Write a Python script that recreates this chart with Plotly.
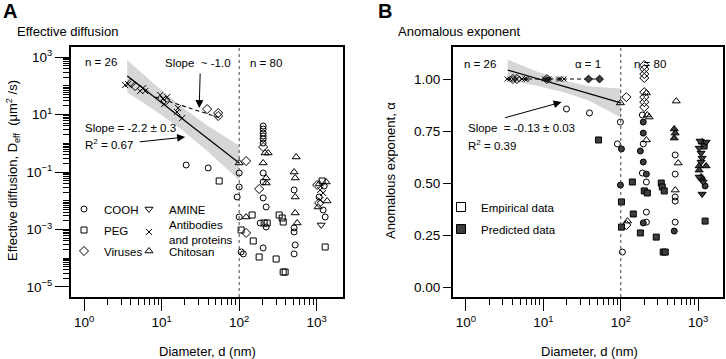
import math
import plotly.graph_objects as go

# ================= Panel A: effective diffusion (d in nm, D in um^2/s) =================
cooh_d = [20.7, 39.8, 100, 100, 94.2, 100, 106, 113, 204, 204, 204, 204, 204, 204, 204, 204,
          204, 223, 187, 223, 204, 512, 512, 512, 528, 512, 1250, 1077, 1213, 1288]
cooh_D = [0.175, 0.138, 0.0923, 0.0301, 0.0135, 0.00272, 1.65e-4, 1.41e-4, 3.98, 3.13, 2.27, 1.79,
          1.41, 1.02, 0.0923, 0.0449, 0.0125, 0.00607, 0.00168, 0.00122, 2.28e-4, 0.0237, 0.00113,
          8.2e-4, 2.89e-4, 1.41e-4, 0.0326, 0.0135, 0.00476, 0.00272]

peg_d = [55.2, 147, 106, 152, 210, 230, 181, 328, 359, 370, 300, 370, 392, 1288, 1178]
peg_D = [0.0486, 0.00319, 9.6e-4, 3.98e-4, 0.00168, 0.00168, 1.1e-4, 0.00319, 0.00251, 0.00182,
         9.4e-5, 3.3e-5, 3.3e-5, 2.46e-4, 0.0486]

virus_d = [4.04, 4.55, 11.1, 38.6, 53.6, 53.6, 123, 204, 181, 123, 1015, 1077]
virus_D = [125, 98, 29.5, 15.5, 11.3, 8.87, 0.241, 0.741, 0.0256, 7.6e-4, 0.0353, 0.00835]

amine_d = [1143]
amine_D = [0.00144]

antib_d = [3.38, 3.70, 5.28, 5.77, 6.12, 9.57, 10.4, 11.8, 10.8, 16.3, 15.8, 18.4, 1110, 1213, 1110]
antib_D = [106, 115, 65.6, 83.5, 65.6, 47.6, 34.6, 40.6, 23.2, 16.8, 12.2, 7.55, 0.0237, 0.0186, 0.0106]

chit_d = [100, 123, 216, 237, 204, 223, 223, 544, 512, 528, 528, 528, 560, 1327, 1077, 1365, 1045]
chit_D = [0.206, 0.00272, 0.458, 0.458, 0.206, 0.0618, 0.0414, 0.333, 0.1, 0.0618, 0.0135, 0.00375,
          0.00168, 0.0449, 0.0383, 0.0098, 0.00607]

# regression (solid) and its confidence band, panel A
fitA_d = [3.6, 100]
fitA_D = [218, 0.206]
bandA_d = [3.59, 7.94, 17.8, 39.8, 100]
bandA_up = [792, 117, 19.2, 3.99, 0.818]
bandA_lo = [60.1, 14.7, 3.05, 0.502, 0.0516]
# dashed "Slope ~ -1.0" line
slope1_d = [8.3, 57]
slope1_D = [40.6, 7.6]

# ================= Panel B: anomalous exponent =================
# empirical (open symbols)
emp_circ_d = [19.9, 39.4, 98.9, 90.4, 105, 190, 195, 190, 214, 214, 214, 504, 504, 504, 504, 504]
emp_circ_a = [0.856, 0.837, 0.793, 0.688, 0.168, 0.827, 0.688, 0.548, 0.505, 0.36, 0.312, 0.635,
              0.543, 0.433, 0.413, 0.312]
emp_diam_d = [4.04, 4.55, 11.1, 118, 201, 201, 201, 201, 201, 201, 201, 201, 118]
emp_diam_a = [1.0, 1.0, 1.0, 0.913, 1.067, 1.048, 1.024, 1.005, 0.937, 0.913, 0.889, 0.865, 0.298]
emp_tri_d = [98.9, 122, 214, 220, 233, 214, 520, 551, 504]
emp_tri_a = [0.885, 0.317, 0.933, 0.827, 0.817, 0.707, 0.894, 0.596, 0.466]
emp_x_d = [3.4, 3.7, 4.1, 4.5, 5.3, 5.8, 6.1, 10.4, 11.1, 11.8, 15.8, 16.8, 18.4]
emp_x_a = [1.0, 1.0, 1.0, 1.0, 1.0, 1.0, 1.0, 1.0, 1.0, 1.0, 1.0, 1.0, 1.0]
# predicted (filled symbols)
pre_diam_d = [38.3, 53.1]
pre_diam_a = [1.0, 1.0]
pre_circ_d = [102, 98.9, 195, 195, 179, 195, 214, 195, 490, 1122, 1227]
pre_circ_a = [0.664, 0.49, 0.793, 0.74, 0.654, 0.601, 0.543, 0.308, 0.269, 0.519, 0.486]
pre_sq_d = [51.5, 102, 102, 141, 145, 201, 220, 179, 333, 343, 364, 287, 353, 375, 1191, 1227]
pre_sq_a = [0.707, 0.409, 0.288, 0.505, 0.351, 0.462, 0.452, 0.26, 0.5, 0.481, 0.462, 0.24, 0.168,
            0.168, 0.678, 0.317]
pre_tri_d = [490, 504, 490, 1122, 1264, 1028, 1028, 1089]
pre_tri_a = [0.76, 0.74, 0.716, 0.697, 0.582, 0.582, 0.562, 0.529]
pre_tdn_d = [1057, 1264, 1028, 1089, 1122, 1089, 1028, 1156, 1122]
pre_tdn_a = [0.702, 0.697, 0.668, 0.644, 0.62, 0.601, 0.529, 0.505, 0.447]

fitB_d = [3.47, 100]
fitB_a = [1.043, 0.885]
bandB_d = [3.47, 7.94, 17.8, 39.8, 100]
bandB_up = [1.093, 1.039, 0.994, 0.964, 0.955]
bandB_lo = [0.993, 0.969, 0.938, 0.894, 0.815]
alpha1_d = [3.4, 58]
alpha1_a = [1.0, 1.0]

xtick_vals = [1, 10, 100, 1000]
xtick_text = ["10<sup>0</sup>", "10<sup>1</sup>", "10<sup>2</sup>", "10<sup>3</sup>"]
ytickA_vals = [1e-5, 1e-3, 1e-1, 1e1, 1e3]
ytickA_text = ["10<sup>\u22125</sup>", "10<sup>\u22123</sup>", "10<sup>\u22121</sup>",
               "10<sup>1</sup>", "10<sup>3</sup>"]
ytickB_vals = [0, 0.25, 0.5, 0.75, 1.0]
ytickB_text = ["0.00", "0.25", "0.50", "0.75", "1.00"]

W, H = 726, 359
def px(x):
    return x / W
def py(y):
    return 1 - y / H

FONT = "Liberation Sans, Arial, sans-serif"
BAND = "#d6d6d6"
FILL = "#3d3d3d"

fig = go.Figure()

# ---------- panel A ----------
fig.add_trace(go.Scatter(x=bandA_d + bandA_d[::-1], y=bandA_up + bandA_lo[::-1], fill="toself",
                         fillcolor=BAND, line=dict(width=0), mode="lines", hoverinfo="skip",
                         showlegend=False, xaxis="x", yaxis="y"))
fig.add_trace(go.Scatter(x=fitA_d, y=fitA_D, mode="lines", line=dict(color="black", width=1.2),
                         showlegend=False, xaxis="x", yaxis="y"))
fig.add_trace(go.Scatter(x=slope1_d, y=slope1_D, mode="lines",
                         line=dict(color="black", width=1.1, dash="4px,3px"),
                         showlegend=False, xaxis="x", yaxis="y"))

def mk(sym, size, filled=False):
    return dict(symbol=sym, size=size, color=FILL if filled else "black",
                line=dict(color="black", width=1))

seriesA = [
    ("COOH", cooh_d, cooh_D, "circle-open", 6, "legend"),
    ("PEG", peg_d, peg_D, "square-open", 6, "legend2"),
    ("Viruses", virus_d, virus_D, "diamond-open", 7, "legend3"),
    ("AMINE", amine_d, amine_D, "triangle-down-open", 7, "legend4"),
    ("Antibodies<br>and proteins", antib_d, antib_D, "x-thin", 6, "legend5"),
    ("Chitosan", chit_d, chit_D, "triangle-up-open", 7, "legend6"),
]
for name, xs, ys, sym, sz, lg in seriesA:
    fig.add_trace(go.Scatter(x=xs, y=ys, mode="markers", name=name, marker=mk(sym, sz),
                             legend=lg, xaxis="x", yaxis="y"))

# ---------- panel B ----------
fig.add_trace(go.Scatter(x=bandB_d + bandB_d[::-1], y=bandB_up + bandB_lo[::-1], fill="toself",
                         fillcolor=BAND, line=dict(width=0), mode="lines", hoverinfo="skip",
                         showlegend=False, xaxis="x2", yaxis="y2"))
fig.add_trace(go.Scatter(x=alpha1_d, y=alpha1_a, mode="lines",
                         line=dict(color="black", width=1.1, dash="4px,3px"),
                         showlegend=False, xaxis="x2", yaxis="y2"))
fig.add_trace(go.Scatter(x=fitB_d, y=fitB_a, mode="lines", line=dict(color="black", width=1.2),
                         showlegend=False, xaxis="x2", yaxis="y2"))

seriesB = [
    (emp_circ_d, emp_circ_a, "circle-open", 6, False),
    (emp_diam_d, emp_diam_a, "diamond-open", 7, False),
    (emp_tri_d, emp_tri_a, "triangle-up-open", 7, False),
    (emp_x_d, emp_x_a, "x-thin", 5, False),
    (pre_diam_d, pre_diam_a, "diamond", 6, True),
    (pre_circ_d, pre_circ_a, "circle", 6, True),
    (pre_sq_d, pre_sq_a, "square", 6, True),
    (pre_tri_d, pre_tri_a, "triangle-up", 7, True),
    (pre_tdn_d, pre_tdn_a, "triangle-down", 7, True),
]
for xs, ys, sym, sz, fl in seriesB:
    fig.add_trace(go.Scatter(x=xs, y=ys, mode="markers", marker=mk(sym, sz, fl),
                             showlegend=False, xaxis="x2", yaxis="y2"))

fig.add_trace(go.Scatter(x=[None], y=[None], mode="markers", name="Empirical data",
                         marker=dict(symbol="square-open", size=9, color="black",
                                     line=dict(color="black", width=1)),
                         legend="legend7", xaxis="x2", yaxis="y2"))
fig.add_trace(go.Scatter(x=[None], y=[None], mode="markers", name="Predicted data",
                         marker=dict(symbol="square", size=9, color=FILL,
                                     line=dict(color="black", width=1)),
                         legend="legend8", xaxis="x2", yaxis="y2"))

# ---------- axes ----------
minor_x = [k * 10 ** e for e in range(0, 3) for k in range(2, 10)]
minor_yA = [k * 10.0 ** e for e in range(-5, 3) for k in range(1, 10)
            if not (k == 1 and e % 2 != 0)]

common = dict(showgrid=False, zeroline=False, showline=True, mirror=True, linecolor="black",
              linewidth=2, ticks="outside", tickcolor="black", tickwidth=1, automargin=False,
              tickfont=dict(family=FONT, size=13.5, color="black"))

dom_y = [py(297), py(47)]
fig.update_layout(
    width=W, height=H, margin=dict(l=0, r=0, t=0, b=0, autoexpand=False),
    paper_bgcolor="white", plot_bgcolor="white",
    font=dict(family=FONT, size=13, color="black"),
    xaxis=dict(domain=[px(71), px(343)], type="log", range=[-0.17, 3.34], anchor="y",
               tickmode="array", tickvals=xtick_vals, ticktext=xtick_text, ticklen=12,
               minor=dict(tickmode="array", tickvals=minor_x, ticks="outside", ticklen=6,
                          tickcolor="black", tickwidth=1, showgrid=False), **common),
    yaxis=dict(domain=dom_y, type="log", range=[-5.35, 3.35], anchor="x",
               tickmode="array", tickvals=ytickA_vals, ticktext=ytickA_text, ticklen=14,
               minor=dict(tickmode="array", tickvals=minor_yA, ticks="outside", ticklen=6,
                          tickcolor="black", tickwidth=1, showgrid=False), **common),
    xaxis2=dict(domain=[px(453), px(723)], type="log", range=[-0.167, 3.32], anchor="y2",
                tickmode="array", tickvals=xtick_vals, ticktext=xtick_text, ticklen=12,
                minor=dict(tickmode="array", tickvals=minor_x, ticks="outside", ticklen=6,
                           tickcolor="black", tickwidth=1, showgrid=False), **common),
    yaxis2=dict(domain=dom_y, range=[-0.048, 1.154], anchor="x2",
                tickmode="array", tickvals=ytickB_vals, ticktext=ytickB_text, ticklen=8,
                **common),
)

# legends (one per entry so each can be placed like the original key)
leg_common = dict(xanchor="left", yanchor="middle", bgcolor="rgba(0,0,0,0)", borderwidth=0,
                  font=dict(family=FONT, size=11.5, color="black"))
fig.update_layout(
    legend=dict(x=px(64), y=py(209), **leg_common),
    legend2=dict(x=px(64), y=py(230), **leg_common),
    legend3=dict(x=px(64), y=py(251), **leg_common),
    legend4=dict(x=px(129), y=py(209), **leg_common),
    legend5=dict(x=px(129), y=py(232), **leg_common),
    legend6=dict(x=px(129), y=py(251), **leg_common),
    legend7=dict(x=px(441), y=py(207), **leg_common),
    legend8=dict(x=px(441), y=py(229), **leg_common),
)

# dotted d = 100 nm separators
for xr, yr in (("x", "y domain"), ("x2", "y2 domain")):
    fig.add_shape(type="line", xref=xr, yref=yr, x0=100, x1=100, y0=0, y1=1,
                  line=dict(color="#444444", width=1, dash="dot"))

# ---------- texts ----------
def txt(x, y, s, size=11.5, xa="left", angle=0):
    fig.add_annotation(x=px(x), y=py(y), xref="paper", yref="paper", text=s, showarrow=False,
                       xanchor=xa, yanchor="middle", textangle=angle,
                       font=dict(family=FONT, size=size, color="black"))

txt(1, 11, "<b>A</b>", size=20)
txt(376, 11, "<b>B</b>", size=20)
txt(15, 32, "Effective diffusion", size=13)
txt(396, 32, "Anomalous exponent", size=13)

txt(83, 62, "n = 26")
txt(163, 63, "Slope  ~ -1.0")
txt(248, 63, "n = 80")
txt(83, 128, "Slope = -2.2 \u00b1 0.3")
txt(83, 144, "R<sup>2</sup> = 0.67")

txt(462, 64, "n = 26")
txt(573, 64, "\u03b1 = 1")
txt(632, 64, "n = 80")
txt(466, 128, "Slope  = -0.13 \u00b1 0.03")
txt(466, 145, "R<sup>2</sup> = 0.39")

txt(207, 351, "Diameter, d (nm)", size=13, xa="center")
txt(589, 351, "Diameter, d (nm)", size=13, xa="center")
txt(13, 171, "Effective diffusion, D<sub>eff</sub>  (\u03bcm<sup>2</sup> /s)", size=13,
    xa="center", angle=-90)
txt(390, 171, "Anomalous exponent, \u03b1", size=13, xa="center", angle=-90)

# arrows
def arrow(xref, yref, x, y, ax, ay):
    fig.add_annotation(x=x, y=y, xref=xref, yref=yref, ax=ax, ay=ay, text="", showarrow=True,
                       arrowhead=2, arrowsize=1.6, arrowwidth=1, arrowcolor="black")

arrow("x", "y", math.log10(20.1), math.log10(1.65), -47, 5)
arrow("x", "y", math.log10(30.5), math.log10(16.8), 1, -36)
arrow("x2", "y2", math.log10(17.2), 0.889, -58, 16)

fig.write_html("out.html", config={"displayModeBar": False},
               post_script="document.body.style.margin='0px';document.body.style.overflow='hidden';")
